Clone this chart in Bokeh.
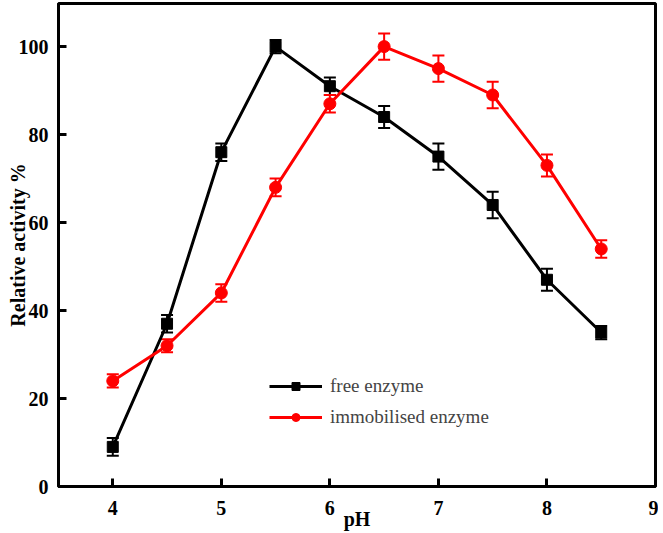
from bokeh.plotting import figure
from bokeh.models import ColumnDataSource, Whisker, TeeHead, Legend, LegendItem, FixedTicker
from bokeh.embed import file_html
from bokeh.resources import INLINE

ph = [4, 4.5, 5, 5.5, 6, 6.5, 7, 7.5, 8, 8.5]
free_act = [9, 37, 76, 100, 91, 84, 75, 64, 47, 35]
free_err = [2, 2, 2, 1.5, 2, 2.5, 3, 3, 2.5, 1.5]
imm_act = [24, 32, 44, 68, 87, 100, 95, 89, 73, 54]
imm_err = [1.5, 1.5, 2, 2, 2, 3, 3, 3, 2.5, 2]
x_ticks = [4, 5, 6, 7, 8, 9]
y_ticks = [0, 20, 40, 60, 80, 100]

FONT = "Liberation Serif"

p = figure(frame_width=597, frame_height=483, x_range=(3.5, 9), y_range=(0, 109.8),
           output_backend="svg", toolbar_location=None,
           min_border_left=58, min_border_right=3, min_border_top=3, min_border_bottom=0)
p.grid.visible = False
p.outline_line_color = "black"
p.outline_line_width = 3

for ax in (p.xaxis[0], p.yaxis[0]):
    ax.axis_line_width = 3
    ax.major_tick_line_width = 3
    ax.major_tick_in = 8
    ax.major_tick_out = 0
    ax.minor_tick_line_color = None
    ax.major_label_text_font = FONT
    ax.major_label_text_font_style = "bold"
    ax.major_label_text_font_size = "20px"
    ax.major_label_text_color = "black"
    ax.axis_label_text_font = FONT
    ax.axis_label_text_font_style = "bold"
    ax.axis_label_text_font_size = "20px"
    ax.axis_label_text_color = "black"

p.xaxis.ticker = FixedTicker(ticks=x_ticks)
p.yaxis.ticker = FixedTicker(ticks=y_ticks)
p.xaxis.axis_label = "pH"
p.yaxis.axis_label = "Relative activity %"
p.xaxis.major_label_standoff = 14
p.yaxis.major_label_standoff = 10
p.xaxis.axis_label_standoff = -10
p.yaxis.axis_label_standoff = -13

series = [
    ("free enzyme", free_act, free_err, "black", "square", 11),
    ("immobilised enzyme", imm_act, imm_err, "red", "circle", 12),
]
items = []
for name, act, err, color, marker, size in series:
    src = ColumnDataSource(dict(x=ph, y=act,
                                lo=[a - e for a, e in zip(act, err)],
                                hi=[a + e for a, e in zip(act, err)]))
    ln = p.line("x", "y", source=src, line_color=color, line_width=3)
    w = Whisker(source=src, base="x", upper="hi", lower="lo",
                line_color=color, line_width=2,
                upper_head=TeeHead(size=12, line_color=color, line_width=2),
                lower_head=TeeHead(size=12, line_color=color, line_width=2))
    p.add_layout(w)
    sc = p.scatter("x", "y", source=src, marker=marker, size=size,
                   fill_color=color, line_color=color)
    items.append(LegendItem(label=name, renderers=[ln, sc]))

legend = Legend(items=items, location=(201, 48), glyph_width=53, glyph_height=20,
                label_text_font=FONT, label_text_font_size="19px",
                label_standoff=8, spacing=9,
                background_fill_alpha=0, border_line_alpha=0)
p.add_layout(legend, "center")

open("out.html", "w").write(file_html(p, INLINE))
